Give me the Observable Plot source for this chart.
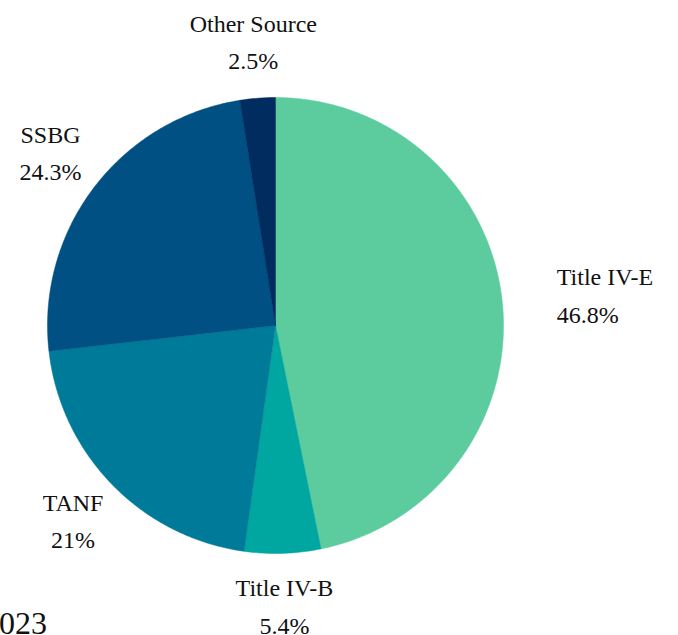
<!DOCTYPE html>
<html>
<head>
<meta charset="utf-8">
<script src="https://cdn.jsdelivr.net/npm/d3@7"></script>
<script src="https://cdn.jsdelivr.net/npm/@observablehq/plot@0.6"></script>
<style>
  html, body { margin: 0; padding: 0; background: #fff; overflow: hidden; }
  #wrap { position: relative; width: 678px; height: 635px; overflow: hidden; }
  #yr { position: absolute; left: -17px; top: 607px; font-family: "Liberation Serif", serif; font-size: 32px; color: #111; line-height: 1; }
</style>
</head>
<body>
<div id="wrap"><div id="chart"></div><div id="yr">2023</div></div>
<script>
const categories = ["Title IV-E", "Title IV-B", "TANF", "SSBG", "Other Source"];
const values = [46.8, 5.4, 21, 24.3, 2.5];
const valueLabels = ["46.8%", "5.4%", "21%", "24.3%", "2.5%"];
const colors = ["#5ccc9f", "#00a6a0", "#007a99", "#005083", "#002c5f"];

const W = 678, H = 635, cx = 275, cy = 325, R = 228;
const total = d3.sum(values);

// slices in unit-circle coordinates, clockwise from 12 o'clock
const polys = [];
const labels = [];
let acc = 0;
categories.forEach((c, i) => {
  const a0 = acc / total * 2 * Math.PI;
  acc += values[i];
  const a1 = acc / total * 2 * Math.PI;
  const n = Math.max(4, Math.ceil((a1 - a0) / 0.01));
  polys.push({cat: c, x: 0, y: 0, k: 0});
  for (let j = 0; j <= n; j++) {
    const a = a0 + (a1 - a0) * j / n;
    polys.push({cat: c, x: Math.sin(a), y: Math.cos(a), k: j + 1});
  }
  polys.push({cat: c, x: 0, y: 0, k: n + 2});
  const am = (a0 + a1) / 2;
  const s = Math.sin(am);
  const anchor = Math.abs(s) > 0.9 ? (s > 0 ? "start" : "end") : "middle";
  labels.push({cat: c, x: 1.24 * Math.sin(am), y: 1.24 * Math.cos(am), anchor,
    text: c + "\n" + valueLabels[i]});
});

const xDom = [-cx / R, (W - cx) / R];
const yDom = [-(H - cy) / R, cy / R];

const chart = Plot.plot({
  width: W, height: H,
  margin: 0,
  x: {domain: xDom, axis: null},
  y: {domain: yDom, axis: null},
  color: {domain: categories, range: colors},
  style: {background: "transparent"},
  marks: [
    Plot.line(polys, {x: "x", y: "y", z: "cat", fill: "cat", stroke: "cat", strokeWidth: 0.5, curve: "linear"}),
    ...["start", "middle", "end"].map(anc =>
      Plot.text(labels.filter(d => d.anchor === anc), {
        x: "x", y: "y", text: "text", textAnchor: anc, lineAnchor: "middle",
        lineHeight: 1.55, fontSize: 24, fill: "#111", dy: -5,
        fontFamily: "Liberation Serif, serif"
      })
    )
  ]
});
document.getElementById("chart").appendChild(chart);
</script>
</body>
</html>
